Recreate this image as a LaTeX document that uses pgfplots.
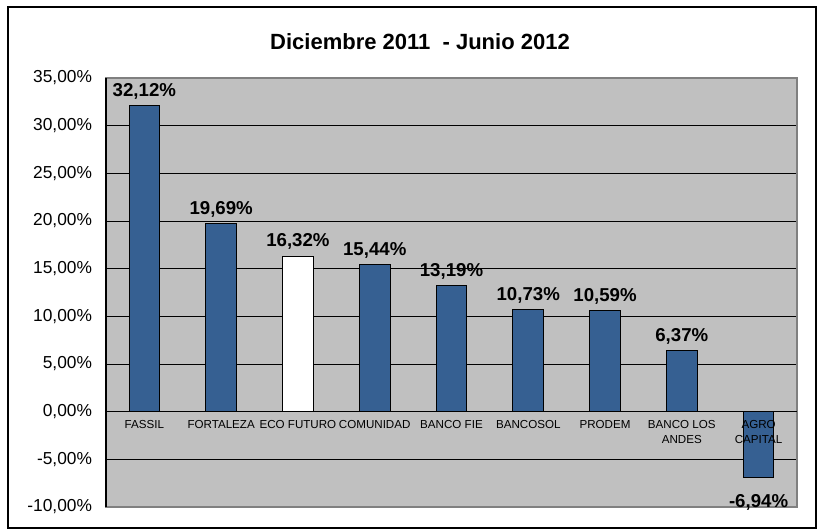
\documentclass[border=0pt]{standalone}
\usepackage{pgfplots}
\pgfplotsset{compat=1.18}
\usepackage{fontspec}
\setmainfont{Liberation Sans}
\definecolor{barblue}{RGB}{54,96,146}
\definecolor{plotgray}{RGB}{192,192,192}
\begin{document}
\begin{tikzpicture}
\begin{axis}[
 at={(0pt,0pt)}, anchor=south west,
 scale only axis, width=518.25pt, height=321.75pt,
 xmin=-0.5, xmax=8.5, ymin=-10, ymax=35,
 ytick={-10,-5,...,35},
 xtick=\empty,
 ymajorgrids, grid style={black, line width=0.7pt},
 axis background/.style={fill=plotgray},
 axis line style={gray, line width=0.8pt},
 tick style={draw=none},
 /pgf/number format/assume math mode=true,
 yticklabel={\pgfmathprintnumber[fixed,fixed zerofill,precision=2,use comma]{\tick}\%},
 yticklabel style={font=\fontsize{13}{15}\selectfont, xshift=-7pt},
 clip=false,
]
% blue bars, positive
\addplot[ybar, bar width=0.4, bar shift=0pt, fill=barblue, draw=black, line width=0.7pt,
  nodes near coords, point meta=explicit symbolic,
  nodes near coords style={font=\bfseries\fontsize{14}{16}\selectfont, anchor=south, text=black, yshift=1pt}]
 coordinates {(0,32.12)[32,12\%] (1,19.69)[19,69\%] (3,15.44)[15,44\%] (4,13.19)[13,19\%]
              (5,10.73)[10,73\%] (6,10.59)[10,59\%] (7,6.37)[6,37\%]};
% white bar
\addplot[ybar, bar width=0.4, bar shift=0pt, fill=white, draw=black, line width=0.7pt,
  nodes near coords, point meta=explicit symbolic,
  nodes near coords style={font=\bfseries\fontsize{14}{16}\selectfont, anchor=south, text=black, yshift=1pt}]
 coordinates {(2,16.32)[16,32\%]};
% negative bar
\addplot[ybar, bar width=0.4, bar shift=0pt, fill=barblue, draw=black, line width=0.7pt,
  nodes near coords, point meta=explicit symbolic,
  nodes near coords style={font=\bfseries\fontsize{14}{16}\selectfont, anchor=north, text=black, yshift=-9pt}]
 coordinates {(8,-6.94)[-6,94\%]};
% zero line and left axis
\draw[black, line width=1.2pt] (axis cs:-0.5,0) -- (axis cs:8.5,0);
\draw[black, line width=1.2pt] (axis cs:-0.5,-10) -- (axis cs:-0.5,35);
% category labels
\addplot[only marks, mark=none, nodes near coords, point meta=explicit symbolic,
  nodes near coords style={anchor=north, align=center, inner sep=1pt,
   font=\fontsize{8.7}{11}\selectfont, text=black, yshift=-5.5pt}]
 coordinates {(0,0)[FASSIL] (1,0)[FORTALEZA] (2,0)[ECO FUTURO] (3,0)[COMUNIDAD]
   (4,0)[BANCO FIE] (5,0)[BANCOSOL] (6,0)[PRODEM] (7,0)[BANCO LOS\\ANDES] (8,0)[AGRO\\CAPITAL]};
\end{axis}
\node[font=\bfseries\fontsize{16.5}{19}\selectfont] at (235.5pt,348.75pt) {Diciembre 2011~~- Junio 2012};
\draw[black, line width=0.9pt] (-73.5pt,-15.75pt) rectangle (532.5pt,375pt);
\pgfresetboundingbox
\path[use as bounding box] (-79.5pt,-16.5pt) rectangle (533.25pt,380.25pt);
\end{tikzpicture}
\end{document}
